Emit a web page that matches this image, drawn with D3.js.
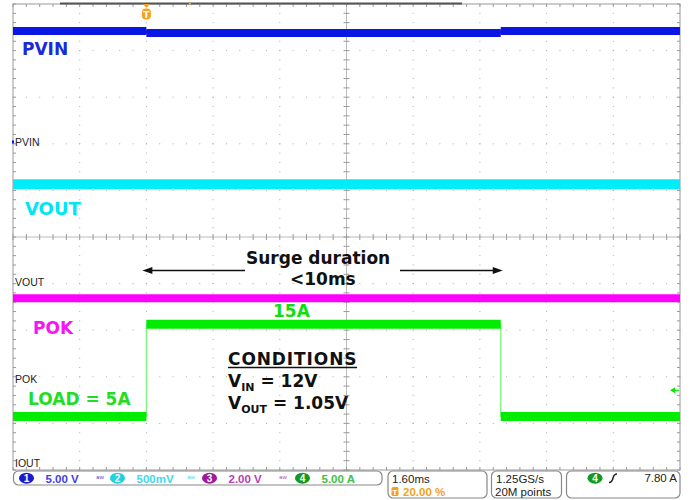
<!DOCTYPE html>
<html>
<head>
<meta charset="utf-8">
<script src="https://cdn.jsdelivr.net/npm/d3@7"></script>
<style>
body { margin: 0; background: #fff; }
text { font-family: "DejaVu Sans", sans-serif; }
</style>
</head>
<body>
<script>
// channel settings, as shown in the scope's status bar
var channels = ["PVIN", "VOUT", "POK", "IOUT"];
var scaleLabels = ["5.00 V", "500mV", "2.00 V", "5.00 A"];
var perDiv = [5, 0.5, 2, 5];                  // units per division
var groundDiv = [2.04, -0.97, -3.04, -4.85];  // ground marker, divisions from center

// time in ms, trigger at 0
var pvinTime = [-3.2, 0, 0, 8.5, 8.5, 12.8];
var pvinVolts = [11.9, 11.9, 11.7, 11.7, 11.9, 11.9];
var voutTime = [-3.2, 12.8];
var voutVolts = [1.05, 1.05];
var pokTime = [-3.2, 12.8];
var pokVolts = [3.45, 3.45];
var ioutTime = [-3.2, 0, 0, 8.5, 8.5, 12.8];
var ioutAmps = [5, 5, 14.9, 14.9, 5, 5];

var triggerLevel = 7.8;   // A, channel 4
var surgeStart = 0, surgeEnd = 8.5;

var colors = ["#0a16e4", "#00ecf6", "#ff00ff", "#00ec00"];
var bandWidth = [8, 10, 8, 9];

var width = 693, height = 500;
var uiFont = "'Liberation Sans', Arial, sans-serif";

var x = d3.scaleLinear().domain([-3.2, 12.8]).range([13, 680]);
var y = d3.scaleLinear().domain([-5, 5]).range([470, 4]);

function yCh(ch, v) { return y(groundDiv[ch] + v / perDiv[ch]); }

var svg = d3.select("body").append("svg")
    .attr("width", width)
    .attr("height", height);

// graticule
var grid = svg.append("g");
var majorT = d3.range(1, 10).map(function(k) { return -3.2 + 1.6 * k; });
var majorD = d3.range(-4, 5);
var minorT = d3.range(0, 51).map(function(k) { return -3.2 + 0.32 * k; });
var minorD = d3.range(0, 51).map(function(k) { return -5 + 0.2 * k; });

majorT.forEach(function(t, i) {
  if (i == 4) return;
  grid.selectAll(null).data(minorD).enter().append("rect")
      .attr("x", x(t) - 0.5).attr("y", function(d) { return y(d) - 0.5; })
      .attr("width", 1).attr("height", 1).attr("fill", "#aaa");
});
majorD.forEach(function(d) {
  if (d == 0) return;
  grid.selectAll(null).data(minorT).enter().append("rect")
      .attr("x", function(t) { return x(t) - 0.5; }).attr("y", y(d) - 0.5)
      .attr("width", 1).attr("height", 1).attr("fill", "#aaa");
});

// center cross with ticks
grid.append("line").attr("x1", x(-3.2)).attr("x2", x(12.8))
    .attr("y1", y(0)).attr("y2", y(0)).attr("stroke", "#bbb");
grid.append("line").attr("x1", x(4.8)).attr("x2", x(4.8))
    .attr("y1", y(-5)).attr("y2", y(5)).attr("stroke", "#bbb");
grid.selectAll(null).data(minorT).enter().append("line")
    .attr("x1", function(t) { return x(t); }).attr("x2", function(t) { return x(t); })
    .attr("y1", y(0) - 3).attr("y2", y(0) + 3).attr("stroke", "#999");
grid.selectAll(null).data(minorD).enter().append("line")
    .attr("x1", x(4.8) - 3).attr("x2", x(4.8) + 3)
    .attr("y1", function(d) { return y(d); }).attr("y2", function(d) { return y(d); })
    .attr("stroke", "#999");

// border with inner ticks
grid.append("rect").attr("x", x(-3.2)).attr("y", y(5))
    .attr("width", x(12.8) - x(-3.2)).attr("height", y(-5) - y(5))
    .attr("fill", "none").attr("stroke", "#999");
[y(5), y(-5)].forEach(function(yy, i) {
  grid.selectAll(null).data(minorT).enter().append("line")
      .attr("x1", function(t) { return x(t); }).attr("x2", function(t) { return x(t); })
      .attr("y1", yy).attr("y2", i == 0 ? yy + 3 : yy - 3).attr("stroke", "#999");
});
[x(-3.2), x(12.8)].forEach(function(xx, i) {
  grid.selectAll(null).data(minorD).enter().append("line")
      .attr("x1", xx).attr("x2", i == 0 ? xx + 3 : xx - 3)
      .attr("y1", function(d) { return y(d); }).attr("y2", function(d) { return y(d); })
      .attr("stroke", "#999");
});
// record view bar on top border
svg.append("line").attr("x1", 60).attr("x2", 462).attr("y1", 3.5).attr("y2", 3.5)
    .attr("stroke", "#555").attr("stroke-width", 2);

// traces
function drawTrace(ch, times, vals) {
  var g = svg.append("g");
  var line = d3.line()
      .x(function(d, i) { return x(times[i]); })
      .y(function(d) { return yCh(ch, d); });
  g.append("path").attr("d", line(vals))
      .attr("fill", "none").attr("stroke", ch == 3 ? "#7cf57c" : colors[ch])
      .attr("stroke-width", 1.3);
  for (var i = 0; i < vals.length - 1; i++) {
    if (times[i + 1] > times[i]) {
      g.append("line")
          .attr("x1", x(times[i])).attr("x2", x(times[i + 1]))
          .attr("y1", yCh(ch, vals[i])).attr("y2", yCh(ch, vals[i + 1]))
          .attr("stroke", colors[ch]).attr("stroke-width", bandWidth[ch]);
    }
  }
}
drawTrace(0, pvinTime, pvinVolts);
drawTrace(1, voutTime, voutVolts);
drawTrace(2, pokTime, pokVolts);
drawTrace(3, ioutTime, ioutAmps);

// ground markers / channel names
channels.forEach(function(name, i) {
  svg.append("text")
      .attr("x", 15).attr("y", y(groundDiv[i]) + 4)
      .style("font-family", uiFont)
      .style("font-size", "10.5px").attr("fill", "#222").text(name);
});
svg.append("rect").attr("x", 12).attr("y", y(groundDiv[0]) - 1.5)
    .attr("width", 2).attr("height", 3).attr("fill", colors[0]);

// trigger position marker
var tx = x(0);
svg.append("path").attr("d", "M" + (tx - 3.5) + ",4L" + (tx + 3.5) + ",4L" + tx + ",8Z")
    .attr("fill", "#f5a020");
svg.append("rect").attr("x", tx - 4.5).attr("y", 8.5).attr("width", 9).attr("height", 11)
    .attr("rx", 4).attr("fill", "#f5a020");
svg.append("text").attr("x", tx).attr("y", 17.5).attr("text-anchor", "middle")
    .style("font-size", "9px").style("font-weight", 700).attr("fill", "#fff").text("T");
svg.append("rect").attr("x", 189).attr("y", 2.5).attr("width", 2).attr("height", 2)
    .attr("fill", "#f5a020");

// trigger level marker
var ty = yCh(3, triggerLevel);
svg.append("path").attr("d", "M670," + ty + "L675," + (ty - 3) + "L675," + (ty + 3) + "Z")
    .attr("fill", colors[3]);
svg.append("line").attr("x1", 674).attr("x2", 679).attr("y1", ty).attr("y2", ty)
    .attr("stroke", colors[3]).attr("stroke-width", 1.2);

// channel labels
function label(txt, lx, ly, color, size) {
  svg.append("text").attr("x", lx).attr("y", ly)
      .style("font-size", size + "px").style("font-weight", 700)
      .attr("fill", color).text(txt);
}
label("PVIN", 22, 55, "#1a2ad8", 17);
label("VOUT", 25, 215, "#00e6f4", 18);
label("POK", 33, 334, "#f414f4", 17);
label("15A", 273, 316.5, "#11dd11", 17);
label("LOAD = 5A", 28, 405, "#22dd22", 17);

// surge duration annotation
label("Surge duration", 246, 264, "#111", 17);
label("<10ms", 290, 285, "#111", 17);
var ay = 270.5;
var arrows = [[245, x(surgeStart) - 4], [400, x(surgeEnd) + 2]];
arrows.forEach(function(a) {
  var dir = a[1] < a[0] ? 1 : -1;
  svg.append("line").attr("x1", a[0]).attr("x2", a[1] + dir * 8)
      .attr("y1", ay).attr("y2", ay).attr("stroke", "#111").attr("stroke-width", 1.3);
  svg.append("path")
      .attr("d", "M" + a[1] + "," + ay + "L" + (a[1] + dir * 10) + "," + (ay - 3.5) +
                 "L" + (a[1] + dir * 10) + "," + (ay + 3.5) + "Z")
      .attr("fill", "#111");
});

// conditions block
svg.append("text").attr("x", 228).attr("y", 365)
    .style("font-size", "17px").style("font-weight", 700).style("letter-spacing", "0.9px")
    .attr("fill", "#111").text("CONDITIONS");
svg.append("line").attr("x1", 228).attr("x2", 357).attr("y1", 367.5).attr("y2", 367.5)
    .attr("stroke", "#111").attr("stroke-width", 1.5);
function subLabel(main, sub, rest, ly) {
  var t = svg.append("text").attr("x", 228).attr("y", ly)
      .style("font-size", "17px").style("font-weight", 700).attr("fill", "#111");
  t.append("tspan").text(main);
  t.append("tspan").attr("dy", 4).style("font-size", "11px").text(sub);
  t.append("tspan").attr("dy", -4).text(" " + rest);
}
subLabel("V", "IN", "= 12V", 387);
subLabel("V", "OUT", "= 1.05V", 408.5);

// status bar
var bar = svg.append("g");
function box(bx, by, bw, bh) {
  bar.append("rect").attr("x", bx).attr("y", by).attr("width", bw).attr("height", bh)
      .attr("rx", 5).attr("fill", "#fff").attr("stroke", "#888").attr("stroke-width", 1.2);
}
box(13.5, 471, 368.5, 14);
box(388, 471, 99, 27);
box(491.5, 471, 70, 27);
box(566.5, 471, 113.5, 27);

var badgeColors = ["#1a1acc", "#22d0e0", "#9c1a9c", "#119a22"];
var textColors = ["#4040e0", "#40d8e8", "#b83cb8", "#40c040"];
var badgeX = [26.5, 117.5, 209.5, 302.5];
scaleLabels.forEach(function(s, i) {
  var bx = badgeX[i];
  bar.append("ellipse").attr("cx", bx).attr("cy", 478.2).attr("rx", 7.5).attr("ry", 5.5)
      .attr("fill", badgeColors[i]);
  bar.append("text").attr("x", bx).attr("y", 482).attr("text-anchor", "middle")
      .style("font-family", uiFont)
      .style("font-size", "10px").style("font-weight", 700).attr("fill", "#fff").text(i + 1);
  bar.append("text").attr("x", bx + 19).attr("y", 482.5)
      .style("font-family", uiFont)
      .style("font-size", "11.5px").style("font-weight", 700).attr("fill", textColors[i]).text(s);
  if (i < 3) {
    bar.append("text").attr("x", bx + 70).attr("y", 481)
        .style("font-family", uiFont)
        .style("font-size", "7px").attr("fill", textColors[i]).text("\u1d2e\u1d42");
  }
});

function uiText(txt, tx2, ty2, color, anchor) {
  bar.append("text").attr("x", tx2).attr("y", ty2).attr("text-anchor", anchor || "start")
      .style("font-family", uiFont)
      .style("font-size", "11.5px").attr("fill", color).text(txt);
}
uiText("1.60ms", 392, 483, "#222");
bar.append("rect").attr("x", 391.5).attr("y", 487).attr("width", 7).attr("height", 9)
    .attr("rx", 1.5).attr("fill", "#f5a020");
bar.append("text").attr("x", 395).attr("y", 494.5).attr("text-anchor", "middle")
    .style("font-family", uiFont)
    .style("font-size", "8px").style("font-weight", 700).attr("fill", "#fff").text("T");
bar.append("text").attr("x", 403).attr("y", 496)
    .style("font-family", uiFont)
    .style("font-size", "11.5px").style("font-weight", 700).attr("fill", "#f5a020").text("20.00 %");
uiText("1.25GS/s", 496, 483, "#222");
uiText("20M points", 495, 496, "#222");

bar.append("ellipse").attr("cx", 595).attr("cy", 478.2).attr("rx", 7.5).attr("ry", 5.5)
    .attr("fill", badgeColors[3]);
bar.append("text").attr("x", 595).attr("y", 482).attr("text-anchor", "middle")
    .style("font-family", uiFont)
    .style("font-size", "10px").style("font-weight", 700).attr("fill", "#fff").text("4");
bar.append("path").attr("d", "M609,482.5 Q612,482.5 613,478 Q614,474 617,474")
    .attr("fill", "none").attr("stroke", "#222").attr("stroke-width", 1.5);
uiText(d3.format(".2f")(triggerLevel) + " A", 677, 482, "#222", "end");
</script>
</body>
</html>
